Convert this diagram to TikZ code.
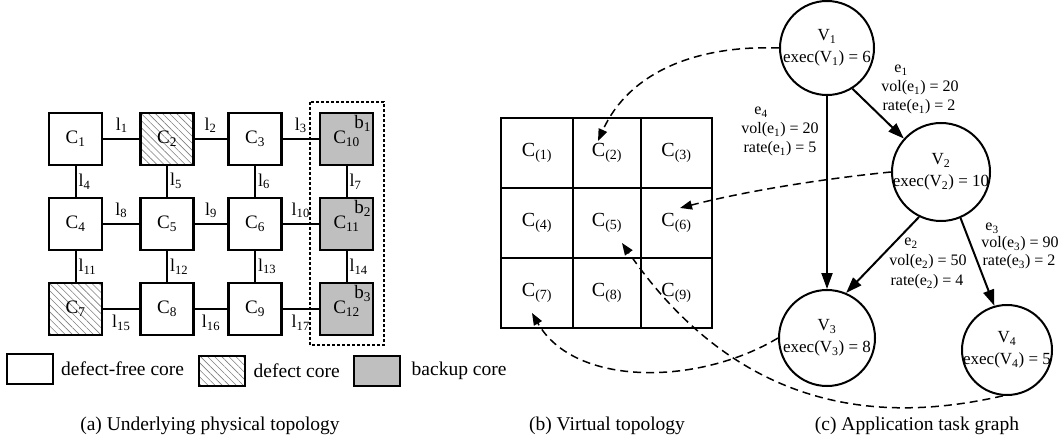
\documentclass[tikz,border=0pt]{standalone}
\usepackage{fontspec}
\setmainfont{Liberation Serif}
\usetikzlibrary{arrows.meta,patterns.meta}
\begin{document}
\begin{tikzpicture}[x=1pt,y=-1pt,
 pcore/.style={draw,line width=2.4pt,minimum width=53pt,minimum height=52pt,inner sep=0pt,font=\fontsize{19}{22}\selectfont},
 hatch/.style={pattern={Lines[angle=-45,distance=5pt,line width=0.6pt]},pattern color=black!50},
 pdefect/.style={pcore,hatch},
 pbackup/.style={pcore,fill=black!25},
 plink/.style={line width=2pt},
 llbl/.style={font=\fontsize{18}{20}\selectfont,inner sep=1pt},
 blbl/.style={font=\fontsize{19}{22}\selectfont,inner sep=3pt,anchor=north east},
 vcell/.style={draw,line width=2pt,minimum height=70pt,inner sep=0pt,font=\fontsize{20}{24}\selectfont},
 task/.style={draw,circle,line width=2pt,inner sep=0pt},
 ttxt/.style={font=\fontsize{17}{22}\selectfont,align=center,inner sep=0pt},
 elbl/.style={font=\fontsize{16}{19}\selectfont,inner sep=0pt},
 tedge/.style={line width=2pt,-{Triangle[length=16pt,width=11pt]}},
 darrow/.style={line width=1.5pt,dash pattern=on 8pt off 5pt,-{Triangle[length=12pt,width=9pt]}},
 legbox/.style={draw,line width=2pt,minimum width=46pt,minimum height=30pt,inner sep=0pt},
 legtxt/.style={font=\fontsize{19.5}{23}\selectfont,anchor=west,inner sep=0pt},
 captxt/.style={font=\fontsize{19.5}{23}\selectfont,inner sep=0pt},
]
\useasboundingbox (0,0) rectangle (1062,446);
\fill[white] (0,0) rectangle (1062,446);

% ---------- (a) physical topology ----------
\node[pcore]   (c1)  at (75.5,139) {C\textsubscript{1}};
\node[pdefect] (c2)  at (167,139)  {C\textsubscript{2}};
\node[pcore]   (c3)  at (255,139)  {C\textsubscript{3}};
\node[pbackup] (c10) at (346.5,139) {C\textsubscript{10}};
\node[pcore]   (c4)  at (75.5,224) {C\textsubscript{4}};
\node[pcore]   (c5)  at (167,224)  {C\textsubscript{5}};
\node[pcore]   (c6)  at (255,224)  {C\textsubscript{6}};
\node[pbackup] (c11) at (346.5,224) {C\textsubscript{11}};
\node[pdefect] (c7)  at (75.5,309) {C\textsubscript{7}};
\node[pcore]   (c8)  at (167,309)  {C\textsubscript{8}};
\node[pcore]   (c9)  at (255,309)  {C\textsubscript{9}};
\node[pbackup] (c12) at (346.5,309) {C\textsubscript{12}};

\node[blbl] (b1) at (c10.north east) {b\textsubscript{1}};
\node[blbl] (b2) at (c11.north east) {b\textsubscript{2}};
\node[blbl] (b3) at (c12.north east) {b\textsubscript{3}};

\draw[plink] (c1) -- node[llbl,above=4pt]{l\textsubscript{1}} (c2);
\draw[plink] (c2) -- node[llbl,above=4pt]{l\textsubscript{2}} (c3);
\draw[plink] (c3) -- node[llbl,above=4pt]{l\textsubscript{3}} (c10);
\draw[plink] (c4) -- node[llbl,above=4pt]{l\textsubscript{8}} (c5);
\draw[plink] (c5) -- node[llbl,above=4pt]{l\textsubscript{9}} (c6);
\draw[plink] (c6) -- node[llbl,above=4pt]{l\textsubscript{10}} (c11);
\draw[plink] (c7) -- node[llbl,below=4pt]{l\textsubscript{15}} (c8);
\draw[plink] (c8) -- node[llbl,below=4pt]{l\textsubscript{16}} (c9);
\draw[plink] (c9) -- node[llbl,below=4pt]{l\textsubscript{17}} (c12);
\draw[plink] (c1) -- node[llbl,right=1pt]{l\textsubscript{4}} (c4);
\draw[plink] (c2) -- node[llbl,right=1pt]{l\textsubscript{5}} (c5);
\draw[plink] (c3) -- node[llbl,right=1pt]{l\textsubscript{6}} (c6);
\draw[plink] (c10) -- node[llbl,right=1pt]{l\textsubscript{7}} (c11);
\draw[plink] (c4) -- node[llbl,right=1pt]{l\textsubscript{11}} (c7);
\draw[plink] (c5) -- node[llbl,right=1pt]{l\textsubscript{12}} (c8);
\draw[plink] (c6) -- node[llbl,right=1pt]{l\textsubscript{13}} (c9);
\draw[plink] (c11) -- node[llbl,right=1pt]{l\textsubscript{14}} (c12);

\draw[line width=2pt,dash pattern=on 3pt off 2pt] (310,102) rectangle (384,345);

% legend
\node[legbox] (lg1) at (30,369) {};
\node[legtxt] (lt1) at ([xshift=7pt]lg1.east) {defect-free core};
\node[legbox,hatch] (lg2) at (221.5,371) {};
\node[legtxt] (lt2) at ([xshift=8pt]lg2.east) {defect core};
\node[legbox,fill=black!25] (lg3) at (376.5,371) {};
\node[legtxt] (lt3) at ([xshift=11pt]lg3.east) {backup core};

% ---------- (b) virtual topology ----------
\node[vcell,minimum width=72pt] (v1) at (537,153) {C\textsubscript{(1)}};
\node[vcell,minimum width=68pt] (v2) at (607,153) {C\textsubscript{(2)}};
\node[vcell,minimum width=71pt] (v3) at (676.5,153) {C\textsubscript{(3)}};
\node[vcell,minimum width=72pt] (v4) at (537,223) {C\textsubscript{(4)}};
\node[vcell,minimum width=68pt] (v5) at (607,223) {C\textsubscript{(5)}};
\node[vcell,minimum width=71pt] (v6) at (676.5,223) {C\textsubscript{(6)}};
\node[vcell,minimum width=72pt] (v7) at (537,293) {C\textsubscript{(7)}};
\node[vcell,minimum width=68pt] (v8) at (607,293) {C\textsubscript{(8)}};
\node[vcell,minimum width=71pt] (v9) at (676.5,293) {C\textsubscript{(9)}};

\coordinate (t2) at (598,141);
\coordinate (t6) at (680,208);
\coordinate (t7) at (532,313);
\coordinate (t5) at (622,243);

% ---------- (c) task graph ----------
\node[task,minimum size=94pt] (V1) at (827,48) {};
\node[task,minimum size=98pt] (V2) at (941,172) {};
\node[task,minimum size=96pt] (V3) at (827,338) {};
\node[task,minimum size=90pt] (V4) at (1007,350) {};
\node[ttxt] (V1t) at (V1) {V\textsubscript{1}\\exec(V\textsubscript{1}) = 6};
\node[ttxt] (V2t) at (V2) {V\textsubscript{2}\\exec(V\textsubscript{2}) = 10};
\node[ttxt] (V3t) at (V3) {V\textsubscript{3}\\exec(V\textsubscript{3}) = 8};
\node[ttxt] (V4t) at (V4) {V\textsubscript{4}\\exec(V\textsubscript{4}) = 5};

\draw[tedge] (V1.south) -- (V3.north);
\draw[tedge] (V1.-58) -- (V2.138);
\draw[tedge] (V2.-116) -- (V3.67);
\draw[tedge] (V2.-67) -- (V4.106);

\node[elbl] (e1a) at (901,70)  {e\textsubscript{1}};
\node[elbl] (e1b) at (920,88)  {vol(e\textsubscript{1}) = 20};
\node[elbl] (e1c) at (919,107) {rate(e\textsubscript{1}) = 2};
\node[elbl] (e4a) at (761,112) {e\textsubscript{4}};
\node[elbl] (e4b) at (780,130) {vol(e\textsubscript{1}) = 20};
\node[elbl] (e4c) at (780,149) {rate(e\textsubscript{1}) = 5};
\node[elbl] (e2a) at (911,243) {e\textsubscript{2}};
\node[elbl] (e2b) at (928,262) {vol(e\textsubscript{2}) = 50};
\node[elbl] (e2c) at (927,282) {rate(e\textsubscript{2}) = 4};
\node[elbl] (e3a) at (992,228) {e\textsubscript{3}};
\node[elbl] (e3b) at (1020,244) {vol(e\textsubscript{3}) = 90};
\node[elbl] (e3c) at (1019,262) {rate(e\textsubscript{3}) = 2};

% mapping arrows
\draw[darrow] (V1.west) .. controls (700,45) and (630,70) .. (t2);
\draw[darrow] (V2.west) .. controls (830,178) and (750,190) .. (t6);
\draw[darrow] (V3.west) .. controls (700,385) and (575,388) .. (t7);
\draw[darrow] (V4.-95) .. controls (905,418) and (750,428) .. (t5);

% captions
\node[captxt] (capa) at (210,426) {(a) Underlying physical topology};
\node[captxt] (capb) at (607,426) {(b) Virtual topology};
\node[captxt] (capc) at (917,426) {(c) Application task graph};
\end{tikzpicture}
\end{document}
